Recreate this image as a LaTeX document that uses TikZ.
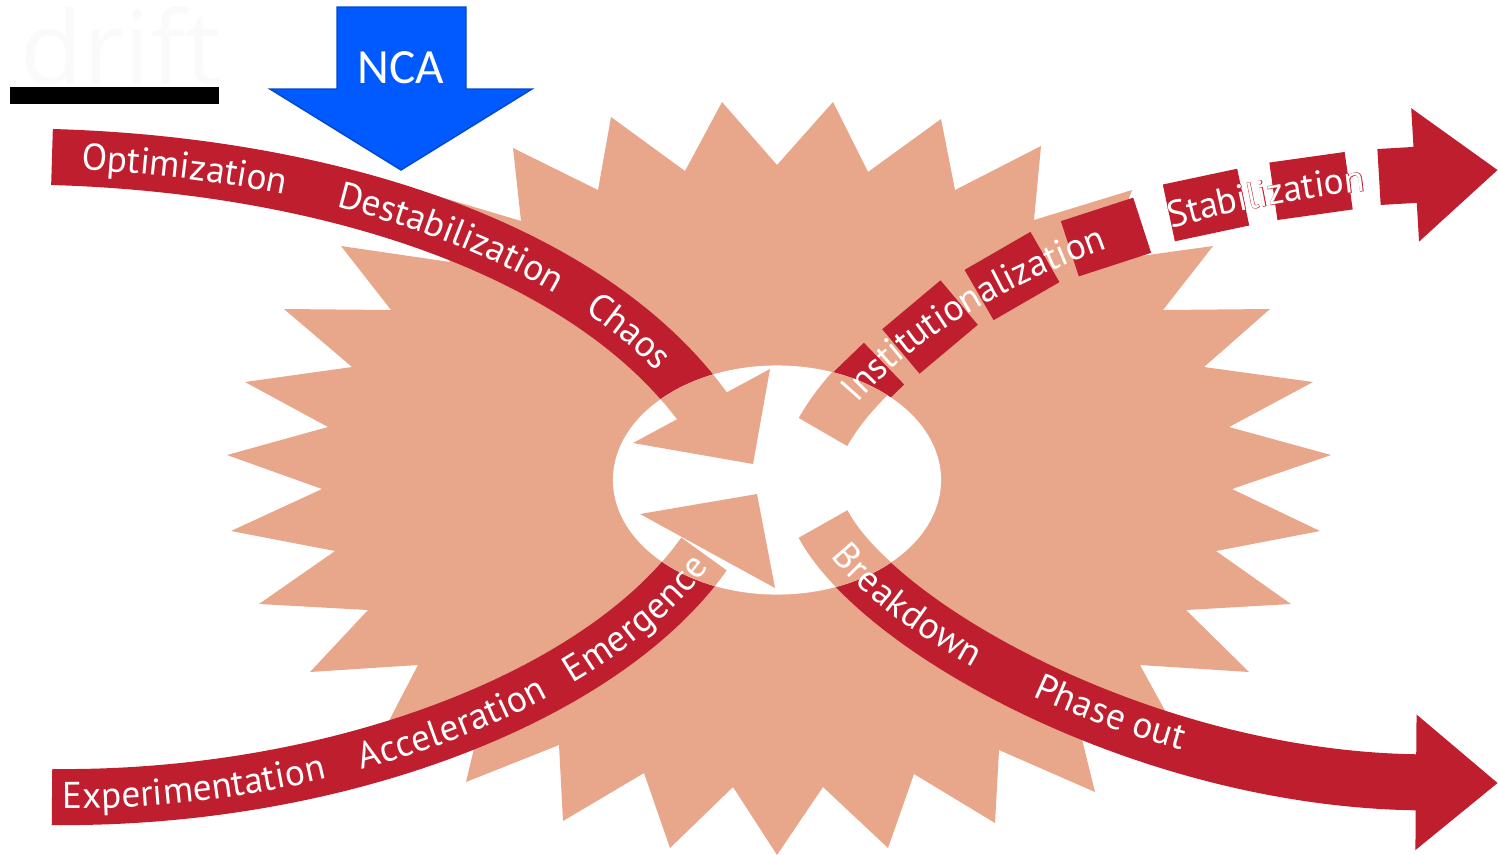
\documentclass[tikz,border=0pt]{standalone}
\usepackage{fontspec}
\usepackage{tikz}
\usetikzlibrary{arrows.meta,decorations.text}

\definecolor{burst}{HTML}{E8A68A}
\definecolor{bandred}{HTML}{BF1E2E}
\definecolor{ncablue}{HTML}{005AFF}

\newfontfamily\bandfont{PT Sans}
\newfontfamily\bandbold[FakeBold=2]{PT Sans}
\newfontfamily\ncafont{Carlito}
\newfontfamily\driftfont{Open Sans}
\newcommand\bandsize{\fontsize{10.6}{12}\selectfont}

\tikzset{
  band/.style={line width=0.56cm, draw=bandred},
  inner/.style={line width=0.56cm, draw=burst},
  tile/.style={fill=bandred, minimum width=0.76cm, minimum height=0.58cm, inner sep=0pt},
  bandtext/.style 2 args={postaction={decorate, decoration={text along path,
      text={|\bandfont\bandsize|#2}, text align={left indent=#1},
      text color=white, raise=-3.3pt}}},
  rimtext/.style 2 args={postaction={decorate, decoration={text along path,
      text={|\bandbold\bandsize|#2}, text align={left indent=#1},
      text color=bandred, raise=-3.3pt}}}
}

\begin{document}
\begin{tikzpicture}[x=0.01cm,y=-0.01cm]

\useasboundingbox (0,0) rectangle (1498,854) ;

\coordinate (opt) at (52,157) ;
\coordinate (chaos) at (705,410) ;
\coordinate (exp) at (52,797) ;
\coordinate (emer) at (704,554) ;
\coordinate (inst) at (823,432) ;
\coordinate (stab) at (1498,170) ;
\coordinate (brk) at (823,524) ;
\coordinate (phase) at (1498,783) ;
\coordinate (ell) at (777,480) ;

\fill[burst] (513,148) -- (598,190) -- (611,117) -- (685,171) -- (722,102) -- (777,165)
  -- (833,102) -- (868,172) -- (941,119) -- (955,190) -- (1041,146) -- (1034,220)
  -- (1132,190) -- (1105,261) -- (1213,246) -- (1163,310) -- (1270,309) -- (1204,367)
  -- (1313,382) -- (1229,427) -- (1331,455) -- (1232,489) -- (1320,531) -- (1216,551)
  -- (1291,604) -- (1186,610) -- (1249,672) -- (1140,665) -- (1180,738) -- (1076,715)
  -- (1095,792) -- (999,750) -- (995,823) -- (914,774) -- (888,848) -- (823,787)
  -- (777,855) -- (733,787) -- (670,848) -- (644,773) -- (563,821) -- (559,745)
  -- (466,782) -- (483,711) -- (380,738) -- (418,665) -- (310,672) -- (368,610)
  -- (259,604) -- (335,551) -- (231,531) -- (322,489) -- (227,455) -- (328,427)
  -- (245,382) -- (352,367) -- (284,309) -- (391,310) -- (341,246) -- (450,262)
  -- (424,192) -- (521,221) -- cycle ;

\draw[band] (opt) .. controls (330,165) and (590,250) .. (chaos) ;
\draw[band] (exp) .. controls (330,800) and (600,700) .. (emer) ;
\draw[band,-{Triangle[length=0.82cm,width=1.3cm]}] (brk) .. controls (880,630) and (1150,780) .. (phase) ;

\node[tile,rotate=44,minimum width=0.5cm] (tileA) at (866,381) {} ;
\node[tile,rotate=40] (tileB) at (930,327) {} ;
\node[tile,rotate=30] (tileC) at (1012,276) {} ;
\node[tile,rotate=18] (tileD) at (1106,237) {} ;
\node[tile,rotate=12] (tileE) at (1206,205) {} ;
\node[tile,rotate=8] (tileF) at (1311,186) {} ;
\draw[band,-{Triangle[length=0.83cm,width=1.28cm]}] (1379,177) -- (stab) ;

\fill[white] (ell) ellipse [x radius=1.64cm, y radius=1.145cm] ;

\begin{scope}
\clip (ell) ellipse [x radius=1.64cm, y radius=1.145cm] ;
\draw[inner] (opt) .. controls (330,165) and (590,250) .. (chaos) ;
\fill[burst] (770,369) -- (753,464) -- (633,443) -- cycle ;
\draw[inner] (exp) .. controls (330,800) and (600,700) .. (emer) ;
\fill[burst] (640,514) -- (757,494) -- (775,588) -- cycle ;
\draw[inner] (inst) .. controls (880,330) and (1100,180) .. (stab) ;
\draw[inner] (brk) .. controls (880,630) and (1150,780) .. (phase) ;
\end{scope}

\path[bandtext={0.3cm}{Optimization},bandtext={2.9cm}{Destabilization},bandtext={5.65cm}{Chaos}]
  (opt) .. controls (330,165) and (590,250) .. (chaos) -- (753,464) ;
\path[bandtext={0.1cm}{Experimentation},bandtext={3.1cm}{Acceleration},bandtext={5.35cm}{Emergence}]
  (exp) .. controls (330,800) and (600,700) .. (emer) -- (757,494) ;
\path[bandtext={0.3cm}{Breakdown},bandtext={2.72cm}{Phase out}]
  (brk) .. controls (880,630) and (1150,780) .. (phase) ;
\path[bandtext={0.45cm}{Institutionalization},rimtext={4.15cm}{Stabilization},bandtext={4.15cm}{Stabilization}]
  (inst) .. controls (880,330) and (1100,180) .. (stab) ;

\draw[fill=ncablue,draw=ncablue!80!black] (337,7) -- (466,7) -- (466,89) -- (532,89) -- (401,170) -- (270,89) -- (337,89) -- cycle ;
\node[text=white,font=\ncafont\fontsize{14}{14}\selectfont] (nca) at (401,68) {NCA} ;

\node[text=black!2,font=\driftfont\fontsize{29}{29}\selectfont] (drift) at (121,46) {drift} ;
\fill (10,87) rectangle (219,104) ;

\end{tikzpicture}
\end{document}
